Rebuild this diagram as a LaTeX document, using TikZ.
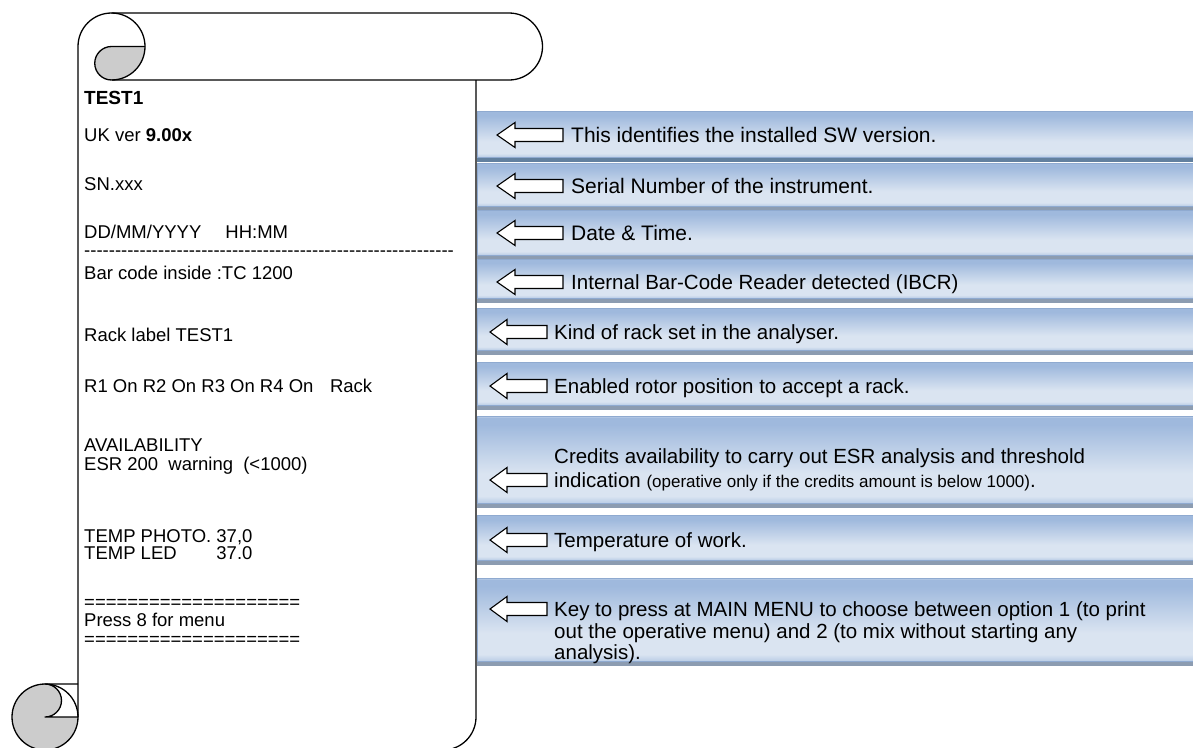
\documentclass[tikz,border=0pt]{standalone}
\usepackage{fontspec}
\setmainfont{Liberation Sans}
\ExplSyntaxOn
\NewDocumentCommand\hyph{m}{\prg_replicate:nn{#1}{-\kern0pt}}
\ExplSyntaxOff
\definecolor{barTop}{HTML}{C6D6EB}
\definecolor{barT}{HTML}{9FB9DD}
\definecolor{barM}{HTML}{DAE4F1}
\definecolor{barB}{HTML}{BACDE6}
\definecolor{barEdge}{HTML}{8FAAD0}
\definecolor{shad}{HTML}{8C9CB1}
\definecolor{shadDark}{HTML}{62809F}
\definecolor{curlgray}{HTML}{CCCCCC}
\pgfdeclareverticalshading{barshade}{100bp}{color(0bp)=(barB); color(25bp)=(barB); color(29bp)=(barM); color(42bp)=(barM); color(70bp)=(barT); color(74bp)=(barT); color(75bp)=(barTop); color(100bp)=(barTop)}
\newcommand\infobar[3]{%
  \fill[#3] (477,-#2) rectangle (1193,-#2-5);
  \path[shading=barshade, draw=barEdge, line width=0.6pt] (477,-#1) rectangle (1193,-#2);
}
\newcommand\larrow[4]{%
  \draw[arr] (#1,-#2) -- (#3,-#2+12.5) -- (#3,-#2+6.5) -- (#4,-#2+6.5) -- (#4,-#2-6.5) -- (#3,-#2-6.5) -- (#3,-#2-12.5) -- cycle;
}
\tikzset{
  arr/.style={fill=white, draw=black, line width=1.1pt, line join=miter},
  outl/.style={draw=black, line width=1.3pt, line join=round},
  ltxt/.style={anchor=base west, inner sep=0pt, font=\fontsize{18.5}{21}\selectfont},
  rtxt/.style={anchor=base west, inner sep=0pt, font=\fontsize{20.5}{23}\selectfont},
  rtxtb/.style={anchor=base west, inner sep=0pt, font=\fontsize{21}{23}\selectfont},
}
\begin{document}
\begin{tikzpicture}[x=1pt,y=1pt]
\useasboundingbox (0,0) rectangle (1193,-747);
% ---- scroll ----
\fill[white] (78,-46.5) -- (78,-750) -- (476,-750) -- (476,-46.5) -- cycle;
\fill[white] (111.5,-13) -- (509,-13) arc[start angle=90,end angle=-90,radius=33.5] -- (111.5,-80) -- cycle;
% gray curls
\fill[curlgray] (111.5,-46.5) -- (145,-46.5) arc[start angle=0,end angle=-90,radius=33.5]
   arc[start angle=270,end angle=90,radius=16.75] -- cycle;
\fill[curlgray] (45,-684) arc[start angle=90,end angle=360,radius=33] -- (45,-717)
   arc[start angle=-90,end angle=90,radius=16.5] -- cycle;
% outlines
\draw[outl] (78,-717) -- (78,-46.5) arc[start angle=180,end angle=90,radius=33.5]
   -- (509,-13) arc[start angle=90,end angle=-90,radius=33.5] -- (111.5,-80);
\draw[outl] (111.5,-13) arc[start angle=90,end angle=-90,radius=33.5];
\draw[outl] (145,-46.5) -- (111.5,-46.5) arc[start angle=90,end angle=270,radius=16.75];
\draw[outl] (476,-80) -- (476,-717) arc[start angle=0,end angle=-90,radius=33] -- (45,-750);
\draw[outl] (45,-717) circle[radius=33];
\draw[outl] (78,-684) -- (45,-684) arc[start angle=90,end angle=-90,radius=16.5] -- (78,-717);
% ---- left texts ----
\node[ltxt, font=\fontsize{19}{21}\selectfont] (l0) at (84,-104) {\textbf{TEST1}};
\node[ltxt] (l1) at (84,-141.5) {UK ver \textbf{9.00x}};
\node[ltxt] (l2) at (84,-190.5) {SN.xxx};
\node[ltxt] (l3) at (84,-238.5) {DD/MM/YYYY\hspace{1.3em}HH:MM};
\node[ltxt] (l4) at (84,-256) {\hyph{60}};
\node[ltxt] (l5) at (84,-279) {Bar code inside :TC 1200};
\node[ltxt] (l6) at (84,-341.5) {Rack label TEST1};
\node[ltxt] (l7) at (84,-392.5) {R1 On R2 On R3 On R4 On\hspace{0.9em}Rack};
\node[ltxt] (l8) at (84,-451.5) {AVAILABILITY};
\node[ltxt] (l9) at (84,-470.5) {ESR 200\hspace{0.55em}warning\hspace{0.55em}(<1000)};
\node[ltxt] (l10) at (84,-542.5) {TEMP PHOTO.~37,0};
\node[ltxt] (l11) at (84,-559.5) {\rlap{TEMP LED}\phantom{TEMP PHOTO.~}37.0};
\node[ltxt] (l12) at (84,-608) {====================};
\node[ltxt] (l13) at (84,-626.5) {Press 8 for menu};
\node[ltxt] (l14) at (84,-645) {====================};
% ---- bars ----
\infobar{111}{157}{shadDark}
\infobar{163}{206}{shad}
\infobar{210}{255}{shad}
\infobar{259}{298}{shad}
\infobar{308}{350}{shad}
\infobar{362}{405}{shad}
\infobar{416}{503}{shad}
\infobar{515}{560}{shad}
\infobar{578}{661}{shad}
% ---- arrows ----
\larrow{497}{135}{515}{563}
\larrow{497}{186}{515}{563}
\larrow{497}{233}{515}{563}
\larrow{497}{282}{515}{563}
\larrow{490}{332}{507}{547}
\larrow{490}{386}{507}{547}
\larrow{490}{480}{507}{547}
\larrow{490}{540}{507}{547}
\larrow{490}{609}{507}{547}
% ---- right texts ----
\node[rtxtb] (r1) at (571,-142.5) {This identifies the installed SW version.};
\node[rtxtb] (r2) at (571,-193.5) {Serial Number of the instrument.};
\node[rtxtb] (r3) at (571,-240.5) {Date \& Time.};
\node[rtxt] (r4) at (571,-289.3) {Internal Bar-Code Reader detected (IBCR)};
\node[rtxt] (r5) at (554,-339.3) {Kind of rack set in the analyser.};
\node[rtxt] (r6) at (554,-393.3) {Enabled rotor position to accept a rack.};
\node[rtxt] (r7a) at (554,-463.3) {Credits availability to carry out ESR analysis and threshold};
\node[rtxt] (r7b) at (554,-487.3) {indication {\fontsize{17}{19}\selectfont (operative only if the credits amount is below 1000)}.};
\node[rtxt] (r8) at (554,-547.3) {Temperature of work.};
\node[rtxt] (r9a) at (554,-616.3) {Key to press at MAIN MENU to choose between option 1 (to print};
\node[rtxt] (r9b) at (554,-638.3) {out the operative menu) and 2 (to mix without starting any};
\node[rtxt] (r9c) at (554,-659.3) {analysis).};
\end{tikzpicture}
\end{document}
